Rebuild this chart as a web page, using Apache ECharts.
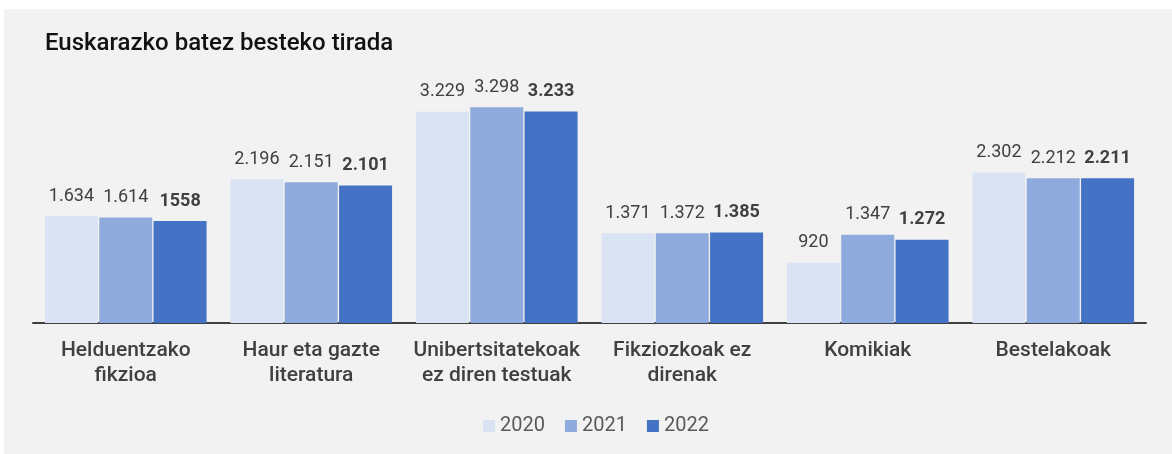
<!DOCTYPE html>
<html>
<head>
<meta charset="utf-8">
<script src="https://cdn.jsdelivr.net/npm/echarts@6/dist/echarts.min.js"></script>
</head>
<body style="margin:0;background:#ffffff">
<div id="container" style="position:absolute;left:4px;top:9px;width:1168px;height:445px;background:#f2f2f2"></div>
<script>
var categories = [
    'Helduentzako\nfikzioa',
    'Haur eta gazte\nliteratura',
    'Unibertsitatekoak\nez diren testuak',
    'Fikziozkoak ez\ndirenak',
    'Komikiak',
    'Bestelakoak'
];
var years = ['2020', '2021', '2022'];

var data2020 = [1634, 2196, 3229, 1371, 920, 2302];
var data2021 = [1614, 2151, 3298, 1372, 1347, 2212];
var data2022 = [1558, 2101, 3233, 1385, 1272, 2211];

// label text as printed on the chart
var labels2020 = ['1.634', '2.196', '3.229', '1.371', '920', '2.302'];
var labels2021 = ['1.614', '2.151', '3.298', '1.372', '1.347', '2.212'];
var labels2022 = ['1558', '2.101', '3.233', '1.385', '1.272', '2.211'];

var colors = ['#dae3f3', '#8faadc', '#4472c4'];
var font = 'Roboto, sans-serif';

function makeSeries(name, values, texts, color, bold) {
    return {
        name: name,
        type: 'bar',
        data: values,
        barWidth: 53,
        barGap: '2.5%',
        itemStyle: { color: color },
        label: {
            show: true,
            position: 'top',
            distance: 11,
            fontFamily: font,
            fontSize: 18,
            fontWeight: bold ? 'bold' : 'normal',
            color: '#404040',
            formatter: function (p) { return texts[p.dataIndex]; }
        }
    };
}

var chart = echarts.init(document.getElementById('container'));
var option = {
    backgroundColor: '#f2f2f2',
    animation: false,
    color: colors,
    title: {
        text: 'Euskarazko batez besteko tirada',
        left: 36,
        top: 18,
        textStyle: {
            fontFamily: font,
            fontSize: 24,
            fontWeight: 500,
            color: '#111111'
        }
    },
    legend: {
        data: years,
        left: 474,
        top: 402,
        itemWidth: 12,
        itemHeight: 12,
        itemGap: 20,
        icon: 'rect',
        textStyle: {
            fontFamily: font,
            fontSize: 20,
            color: '#595959'
        }
    },
    grid: {
        left: 29,
        right: 26,
        top: 85,
        bottom: 131
    },
    xAxis: {
        type: 'category',
        data: categories,
        axisTick: { show: false },
        axisLine: { lineStyle: { color: '#404040', width: 2 } },
        axisLabel: {
            interval: 0,
            margin: 15,
            fontFamily: font,
            fontSize: 21,
            fontWeight: 500,
            lineHeight: 25,
            color: '#404040'
        }
    },
    yAxis: {
        type: 'value',
        min: 0,
        max: 3500,
        show: false,
        splitLine: { show: false }
    },
    series: [
        makeSeries('2020', data2020, labels2020, colors[0], false),
        makeSeries('2021', data2021, labels2021, colors[1], false),
        makeSeries('2022', data2022, labels2022, colors[2], true)
    ]
};
chart.setOption(option);
</script>
</body>
</html>
